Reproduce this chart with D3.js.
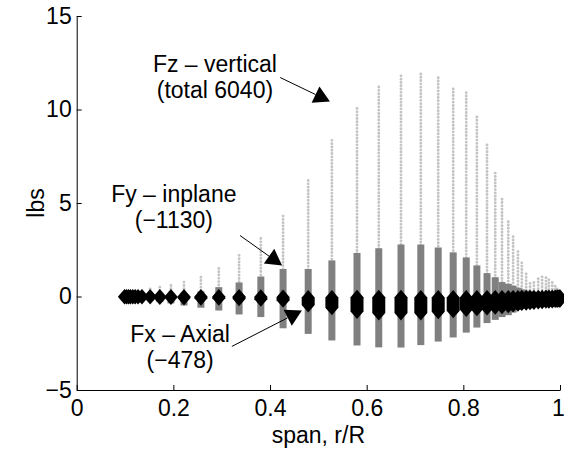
<!DOCTYPE html>
<html>
<head>
<meta charset="utf-8">
<script src="https://cdn.jsdelivr.net/npm/d3@7"></script>
<style>
  body { margin: 0; background: #fff; }
  svg text { font-family: "Liberation Sans", Arial, Helvetica, sans-serif; font-size: 23px; fill: #000; }
</style>
</head>
<body>
<div id="chart"></div>
<script>
// Stations along the blade (r/R)
var span = [0.099, 0.103, 0.107, 0.111, 0.116, 0.121, 0.127, 0.135, 0.152, 0.172,
            0.195, 0.222, 0.257, 0.294, 0.336, 0.381, 0.427, 0.479, 0.528, 0.580,
            0.625, 0.671, 0.712, 0.748, 0.779, 0.806, 0.828, 0.849, 0.866, 0.880,
            0.893, 0.903, 0.913, 0.921, 0.930, 0.938, 0.946, 0.955, 0.963, 0.971,
            0.977, 0.984, 0.990, 0.994, 0.998, 1.000];

// Fz - vertical, top of the dotted column (lbs)
var fzMax = [0.12, 0.14, 0.16, 0.18, 0.2, 0.22, 0.25, 0.3, 0.4, 0.5,
             0.59, 0.77, 1.03, 1.5, 2.2, 3.1, 4.3, 6.2, 8.35, 10.05,
             11.2, 11.8, 11.9, 11.7, 11.1, 10.9, 9.6, 8.1, 6.6, 5.2,
             4.0, 3.2, 2.4, 1.8, 1.2, 0.7, 0.75, 0.95, 1.05, 1.0,
             0.9, 0.75, 0.55, 0.4, 0.3, 0.2];

// Fy - inplane, range of the grey bar (lbs)
var fyMax = [0.08, 0.08, 0.09, 0.1, 0.11, 0.12, 0.13, 0.14, 0.16, 0.15,
             0.12, 0.16, 0.28, 0.5, 0.75, 1.07, 1.47, 1.47, 1.93, 2.33,
             2.58, 2.78, 2.78, 2.62, 2.36, 2.09, 1.66, 1.25, 1.03, 0.77,
             0.68, 0.58, 0.47, 0.38, 0.32, 0.27, 0.22, 0.18, 0.15, 0.12,
             0.1, 0.08, 0.06, 0.04, 0.02, 0.01];
var fyMin = [-0.08, -0.08, -0.09, -0.1, -0.11, -0.12, -0.13, -0.15, -0.2, -0.3,
             -0.37, -0.48, -0.6, -0.75, -0.96, -1.1, -1.7, -2.0, -2.35, -2.62,
             -2.72, -2.73, -2.6, -2.41, -2.19, -1.93, -1.66, -1.42, -1.25, -1.1,
             -1.0, -0.86, -0.72, -0.63, -0.55, -0.48, -0.42, -0.36, -0.3, -0.25,
             -0.2, -0.16, -0.12, -0.08, -0.04, -0.02];

// Fx - axial, range of the black markers (lbs)
var fxMax = [0, 0, 0, 0, 0, 0, 0, 0, 0, 0,
             0, 0, 0, 0, 0, -0.02, -0.03, -0.05, -0.05, -0.04,
             -0.04, -0.04, -0.05, -0.05, -0.05, -0.05, -0.05, -0.05, -0.05, -0.05,
             -0.05, -0.05, -0.05, -0.04, -0.04, -0.04, -0.04, -0.04, -0.04, -0.03,
             -0.03, -0.03, -0.03, -0.02, -0.02, -0.02];
var fxMin = [-0.03, -0.03, -0.03, -0.03, -0.03, -0.03, -0.03, -0.03, -0.03, -0.05,
             -0.05, -0.08, -0.1, -0.1, -0.12, -0.15, -0.2, -0.45, -0.6, -0.8,
             -0.88, -0.88, -0.88, -0.82, -0.76, -0.7, -0.66, -0.62, -0.58, -0.55,
             -0.5, -0.46, -0.42, -0.38, -0.36, -0.34, -0.32, -0.3, -0.28, -0.26,
             -0.25, -0.24, -0.22, -0.21, -0.2, -0.2];

var xTicks = [0, 0.2, 0.4, 0.6, 0.8, 1];
var yTicks = [-5, 0, 5, 10, 15];

// Annotation texts
var noteLines = [["Fz \u2013 vertical", "(total 6040)"],
                 ["Fy \u2013 inplane", "(\u22121130)"],
                 ["Fx \u2013 Axial", "(\u2212478)"]];

(function () {
  "use strict";

  var width = 564,
      height = 451,
      x = d3.scaleLinear().domain([0, 1]).range([76.7, 560]),
      y = d3.scaleLinear().domain([-5, 15]).range([390, 16]),
      svg = null,
      stations = null;

  stations = span.map(function (r, i) {
    return { r: r, fz: fzMax[i], fyTop: fyMax[i], fyBot: fyMin[i],
             fxTop: fxMax[i], fxBot: fxMin[i] };
  });

  svg = d3.select("#chart").append("svg")
          .attr("width", width)
          .attr("height", height);

  svg.append("rect").attr("width", width).attr("height", height).attr("fill", "#fff");

  // Fz - light dotted columns
  svg.append("g").selectAll("line")
    .data(stations)
    .enter()
    .append("line")
    .attr("x1", function (d) { return x(d.r); })
    .attr("x2", function (d) { return x(d.r); })
    .attr("y1", function (d) { return y(d.fz); })
    .attr("y2", y(0))
    .attr("stroke", "#c4c4c4")
    .attr("stroke-width", 2.9)
    .attr("stroke-linecap", "round")
    .attr("stroke-dasharray", "0 3.3");

  // Fy - grey bars
  svg.append("g").selectAll("rect")
    .data(stations)
    .enter()
    .append("rect")
    .attr("x", function (d) { return x(d.r) - 3.5; })
    .attr("width", 7)
    .attr("y", function (d) { return y(d.fyTop); })
    .attr("height", function (d) { return y(d.fyBot) - y(d.fyTop); })
    .attr("fill", "#808080");

  // Fx - black diamonds, stretched over their range
  svg.append("g").selectAll("path")
    .data(stations)
    .enter()
    .append("path")
    .attr("d", function (d) {
      var cx = x(d.r), yt = y(d.fxTop), yb = y(d.fxBot), hw = 6.5, hh = 7.5;
      return "M" + cx + "," + (yt - hh) +
             "L" + (cx + hw) + "," + yt +
             "L" + (cx + hw) + "," + yb +
             "L" + cx + "," + (yb + hh) +
             "L" + (cx - hw) + "," + yb +
             "L" + (cx - hw) + "," + yt + "Z";
    })
    .attr("fill", "#000");

  // Axes, ticks pointing inwards
  var gx = svg.append("g")
    .attr("transform", "translate(0," + y(-5) + ")")
    .call(d3.axisBottom(x).tickValues(xTicks)
            .tickFormat(function (d) { return d === 0 || d === 1 ? d3.format("d")(d) : d3.format(".1f")(d); })
            .tickSizeInner(-5).tickSizeOuter(0).tickPadding(10));
  var gy = svg.append("g")
    .attr("transform", "translate(" + x(0) + ",0)")
    .call(d3.axisLeft(y).tickValues(yTicks)
            .tickFormat(function (d) { return d < 0 ? "\u2212" + Math.abs(d) : d; })
            .tickSizeInner(-5).tickSizeOuter(0).tickPadding(5));
  [gx, gy].forEach(function (g) {
    g.attr("font-family", null).attr("font-size", null);
    g.selectAll("path, line").attr("stroke", "#000").attr("stroke-width", 1);
    g.selectAll("text").attr("fill", "#000");
  });
  // keep the last label inside the frame
  gx.selectAll(".tick text").filter(function (d) { return d === 1; }).attr("dx", "-2");

  // Axis labels
  svg.append("text")
    .attr("x", x(0.5))
    .attr("y", 443)
    .attr("text-anchor", "middle")
    .text("span, r/R");
  svg.append("text")
    .attr("transform", "translate(44," + y(5) + ") rotate(-90)")
    .attr("text-anchor", "middle")
    .text("lbs");

  // Annotations: text anchor and arrow in data units
  var notes = [
    { tx: 0.286, ty: 11.98, from: [0.421, 11.71], to: [0.524, 10.43] },
    { tx: 0.201, ty: 5.03, from: [0.338, 3.26], to: [0.425, 1.66] },
    { tx: 0.214, ty: -2.41, from: [0.321, -2.67], to: [0.466, -0.75] }
  ];

  notes.forEach(function (n, i) {
    var t = svg.append("text")
      .attr("x", x(n.tx))
      .attr("y", y(n.ty))
      .attr("text-anchor", "middle");
    t.append("tspan").attr("x", x(n.tx)).text(noteLines[i][0]);
    t.append("tspan").attr("x", x(n.tx)).attr("dy", 26).text(noteLines[i][1]);

    var x1 = x(n.from[0]), y1 = y(n.from[1]),
        x2 = x(n.to[0]), y2 = y(n.to[1]),
        dx = x2 - x1, dy = y2 - y1,
        len = Math.sqrt(dx * dx + dy * dy),
        ux = dx / len, uy = dy / len,
        hl = 16, hw = 9,
        bx = x2 - ux * hl, by = y2 - uy * hl;

    svg.append("line")
      .attr("x1", x1).attr("y1", y1)
      .attr("x2", bx).attr("y2", by)
      .attr("stroke", "#000").attr("stroke-width", 1);
    svg.append("path")
      .attr("d", "M" + x2 + "," + y2 +
                 "L" + (bx - uy * hw) + "," + (by + ux * hw) +
                 "L" + (bx + uy * hw) + "," + (by - ux * hw) + "Z")
      .attr("fill", "#000");
  });
}());
</script>
</body>
</html>
